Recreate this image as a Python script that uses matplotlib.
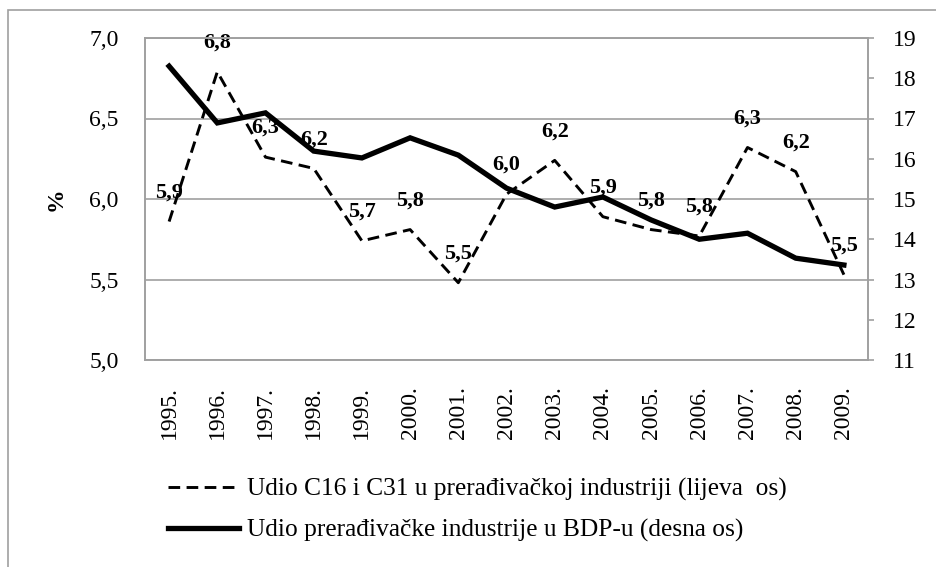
import matplotlib
matplotlib.use("Agg")
import matplotlib.pyplot as plt
from matplotlib.patches import Rectangle

# podaci ocitani sa slike
years = ["1995.", "1996.", "1997.", "1998.", "1999.", "2000.", "2001.", "2002.",
         "2003.", "2004.", "2005.", "2006.", "2007.", "2008.", "2009."]
udio_c16_c31 = [5.86, 6.79, 6.26, 6.19, 5.74, 5.81, 5.48, 6.03,
                6.24, 5.89, 5.81, 5.77, 6.32, 6.17, 5.53]
udio_industrije_bdp = [18.30, 16.89, 17.14, 16.19, 16.02, 16.52, 16.09, 15.27,
                       14.80, 15.05, 14.48, 14.00, 14.15, 13.53, 13.36]
left_ticks = [5.0, 5.5, 6.0, 6.5, 7.0]
right_ticks = [11, 12, 13, 14, 15, 16, 17, 18, 19]

label_dashed = "Udio C16 i C31 u prerađivačkoj industriji (lijeva  os)"
label_solid = "Udio prerađivačke industrije u BDP-u (desna os)"

serif = ['Liberation Serif', 'DejaVu Serif']
plt.rcParams['font.family'] = serif
grey = '#a0a0a0'
fs = 17

fig = plt.figure(figsize=(9.36, 5.67), dpi=100)
W, H = 936, 567
ax = fig.add_axes([145 / W, 1 - 360 / H, (868 - 145) / W, (360 - 38) / H])
ax2 = ax.twinx()

x = list(range(len(years)))

# lijeva os
ax.set_ylim(5.0, 7.0)
ax.set_yticks(left_ticks)
ax.set_yticklabels([("%.1f" % v).replace(".", ",") for v in left_ticks], fontsize=fs)
ax.tick_params(axis='y', which='major', left=True, right=False, length=0, pad=19)
ax.set_xlim(-0.5, len(years) - 0.5)
ax.set_xticks(x)
ax.set_xticklabels(years, rotation=90, fontsize=fs)
ax.tick_params(axis='x', length=0, pad=19)
ax.grid(axis='y', color=grey, linewidth=1.2)
ax.set_axisbelow(True)
for s in ['left', 'bottom', 'right', 'top']:
    ax.spines[s].set_color(grey)
    ax.spines[s].set_linewidth(1.2)
ax.set_ylabel("%", fontsize=fs, fontweight='bold', labelpad=16)

# desna os
ax2.set_ylim(11, 19)
ax2.set_yticks(right_ticks)
ax2.set_yticklabels([str(v) for v in right_ticks], fontsize=fs)
for s in ['left', 'bottom', 'right', 'top']:
    ax2.spines[s].set_color(grey)
    ax2.spines[s].set_linewidth(1.2)

line_d, = ax.plot(x, udio_c16_c31, color='black', linewidth=2.1,
                  dashes=(4, 2.2), zorder=3, label=label_dashed)
line_s, = ax2.plot(x, udio_industrije_bdp, color='black', linewidth=3.8,
                   solid_joinstyle='miter', zorder=3, label=label_solid)

for xi, v in zip(x, udio_c16_c31):
    ax.annotate(("%.1f" % v).replace(".", ","), (xi, v), xytext=(0, 21),
                textcoords='offset points', ha='center', va='center',
                fontsize=16, fontweight='bold', zorder=2)

ax2.tick_params(axis='y', which='major', right=True, left=False, length=4,
                width=1.2, color=grey, pad=14)

fig.legend(handles=[line_d, line_s], loc='upper left',
           bbox_to_anchor=(168 / W, 1 - 478 / H), frameon=False,
           prop={'family': serif, 'size': 18.3}, handlelength=2.8,
           handletextpad=0.3, labelspacing=0.7, borderpad=0, borderaxespad=0)

# okvir oko cijelog grafikona
fig.add_artist(Rectangle((8 / W, -0.1), 1.2, 1 - 10 / H + 0.1,
                         transform=fig.transFigure, fill=False,
                         edgecolor=grey, linewidth=1.2))

fig.savefig("out.png", dpi=100)
